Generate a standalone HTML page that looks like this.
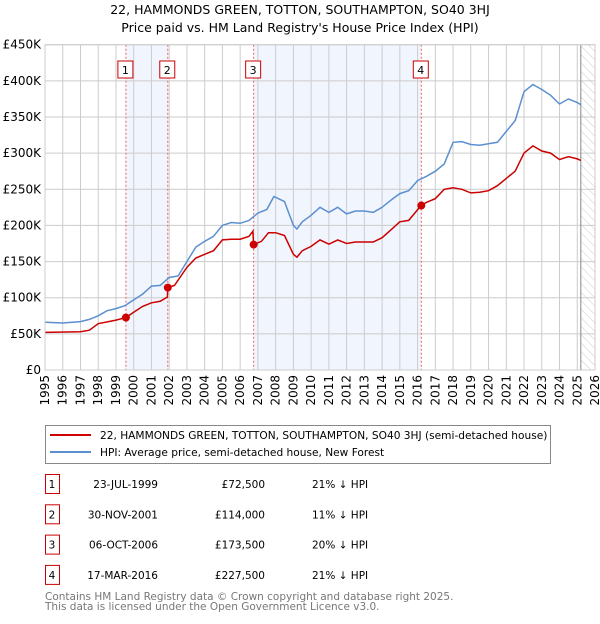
<!DOCTYPE html>
<html><head><meta charset="utf-8"><style>
body{margin:0;background:#fff;font-family:"DejaVu Sans","Liberation Sans",sans-serif;}
svg text{font-family:"DejaVu Sans","Liberation Sans",sans-serif;}
</style></head><body>
<svg id="chart" width="600" height="620" viewBox="0 0 600 620" xmlns="http://www.w3.org/2000/svg">
<defs><pattern id="hatch" width="6" height="6" patternUnits="userSpaceOnUse" patternTransform="rotate(-45)"><line x1="0" y1="0" x2="0" y2="6" stroke="#ccc" stroke-width="1"/></pattern></defs>
<text x="300" y="14" text-anchor="middle" font-size="12.5">22, HAMMONDS GREEN, TOTTON, SOUTHAMPTON, SO40 3HJ</text>
<text x="300" y="32" text-anchor="middle" font-size="12.5">Price paid vs. HM Land Registry's House Price Index (HPI)</text>
<g id="plot"></g>
<g>
<rect x="45.5" y="425.5" width="505" height="38" fill="#fff" stroke="#888"/>
<line x1="50" y1="435" x2="91" y2="435" stroke="#cc0000" stroke-width="2"/>
<text x="100" y="439" font-size="10.6">22, HAMMONDS GREEN, TOTTON, SOUTHAMPTON, SO40 3HJ (semi-detached house)</text>
<line x1="50" y1="452" x2="91" y2="452" stroke="#5b8fd0" stroke-width="2"/>
<text x="100" y="456" font-size="10.6">HPI: Average price, semi-detached house, New Forest</text>
</g>
<g id="table" font-size="10.5"></g>
<text x="45" y="600" font-size="10.5" fill="#777">Contains HM Land Registry data © Crown copyright and database right 2025.</text>
<text x="45" y="610" font-size="10.5" fill="#777">This data is licensed under the Open Government Licence v3.0.</text>
</svg>
<script>
const hpiDates=[1995,1996,1997,1997.5,1998,1998.5,1999,1999.5,2000,2000.5,2001,2001.5,2002,2002.5,2003,2003.5,2004,2004.5,2005,2005.5,2006,2006.5,2007,2007.5,2007.9,2008.5,2009,2009.2,2009.5,2010,2010.5,2011,2011.5,2012,2012.5,2013,2013.5,2014,2014.5,2015,2015.5,2016,2016.5,2017,2017.5,2018,2018.5,2019,2019.5,2020,2020.5,2021,2021.5,2022,2022.5,2023,2023.5,2024,2024.5,2025,2025.2];
const hpiValues=[66,65,67,70,75,82,85,89,97,105,116,117,128,130,150,170,178,185,200,204,203,207,217,222,240,233,200,195,205,214,225,218,225,216,220,220,218,225,235,244,248,262,268,275,285,315,316,312,311,313,315,330,345,385,395,388,380,368,375,370,367];
const priceDates=[1995,1997,1997.5,1998,1999,1999.56,2000,2000.5,2001,2001.5,2001.9,2001.92,2002.3,2003,2003.5,2004,2004.5,2005,2005.5,2006,2006.5,2006.72,2006.76,2007.2,2007.6,2008,2008.5,2009,2009.2,2009.5,2010,2010.5,2011,2011.5,2012,2012.5,2013,2013.5,2014,2014.5,2015,2015.5,2016.2,2016.5,2017,2017.5,2018,2018.5,2019,2019.5,2020,2020.5,2021,2021.5,2022,2022.5,2023,2023.5,2024,2024.5,2025,2025.2];
const priceValues=[52,53,55,64,69,72.5,80,88,93,95,101,114,117,142,155,160,165,180,181,181,185,192,173.5,178,190,190,186,160,156,165,171,180,174,180,175,177,177,177,183,194,205,207,227.5,232,237,250,252,250,245,246,248,255,265,275,300,310,303,300,291,295,292,290];
const saleDates=[1999.56,2001.92,2006.76,2016.21];
const saleValues=[72.5,114,173.5,227.5];
const saleLabels=["1","2","3","4"];
const saleDateText=["23-JUL-1999","30-NOV-2001","06-OCT-2006","17-MAR-2016"];
const salePriceText=["£72,500","£114,000","£173,500","£227,500"];
const salePctText=["21% ↓ HPI","11% ↓ HPI","20% ↓ HPI","21% ↓ HPI"];
const yTicks=[0,50,100,150,200,250,300,350,400,450];
const yTickLabels=["£0","£50K","£100K","£150K","£200K","£250K","£300K","£350K","£400K","£450K"];
const xYears=[];for(let y=1995;y<=2026;y++)xYears.push(y);

const X0=45,X1=595,Y0=370,Y1=44.7;
const sx=d=>X0+(d-1995)/31*(X1-X0);
const sy=v=>Y0-v/450*(Y0-Y1);
const NS="http://www.w3.org/2000/svg";
const plot=document.getElementById('plot');
function mk(tag,attrs,parent){const e=document.createElementNS(NS,tag);for(const k in attrs)e.setAttribute(k,attrs[k]);(parent||plot).appendChild(e);return e;}
const sh1=mk('rect',{x:sx(saleDates[0]),y:Y1,width:sx(saleDates[1])-sx(saleDates[0]),height:Y0-Y1,fill:'#eef2fc',opacity:0.8});


const sh2=mk('rect',{x:sx(saleDates[2]),y:Y1,width:sx(saleDates[3])-sx(saleDates[2]),height:Y0-Y1,fill:'#eef2fc',opacity:0.8});


const hx=sx(2025.2);
const ht=mk('rect',{x:hx,y:Y1,width:X1-hx,height:Y0-Y1,fill:'url(#hatch)'});


yTicks.forEach((t,i)=>{
 const l=mk('line',{x1:X0,x2:X1,y1:sy(t),y2:sy(t),stroke:'#ccc'});
 
 
 const tx=mk('text',{x:X0-4,y:sy(t)+4,'text-anchor':'end','font-size':'12'});
 
 
 tx.textContent=yTickLabels[i];
});
xYears.forEach(yr=>{
 const l=mk('line',{x1:sx(yr),x2:sx(yr),y1:Y1,y2:Y0,stroke:'#ccc'});
 
 
 const tx=mk('text',{x:0,y:0,'font-size':'12','text-anchor':'end',transform:`translate(${sx(yr)+4},${Y0+5}) rotate(-90)`});
 
 
 tx.textContent=yr;
});
const vl=mk('line',{x1:hx,x2:hx,y1:Y1,y2:Y0,stroke:'#888'});


saleDates.forEach((d,i)=>{
 const l=mk('line',{x1:sx(d),x2:sx(d),y1:Y1,y2:Y0,stroke:'#f06060','stroke-dasharray':'2,2'});
 
 
 const r=mk('rect',{x:sx(d)-8,y:61,width:15,height:17,fill:'#fff',stroke:'#cc0000'});
 
 
 const t=mk('text',{x:sx(d)-0.5,y:74,'text-anchor':'middle','font-size':'11'});
 
 
 t.textContent=saleLabels[i];
});
const pts=(ds,vs)=>ds.map((d,i)=>sx(d).toFixed(1)+','+sy(vs[i]).toFixed(1)).join(' ');
const hl=mk('polyline',{points:pts(hpiDates,hpiValues),fill:'none',stroke:'#5b8fd0','stroke-width':1.5});


const pl=mk('polyline',{points:pts(priceDates,priceValues),fill:'none',stroke:'#cc0000','stroke-width':1.5});


saleDates.forEach((d,i)=>{
 const c=mk('circle',{cx:sx(d),cy:sy(saleValues[i]),r:4,fill:'#cc0000'});
 
 
});
const ax=mk('rect',{x:X0,y:Y1,width:X1-X0,height:Y0-Y1,fill:'none',stroke:'#ccc'});


const tb=document.getElementById('table');
saleLabels.forEach((lab,i)=>{
 const y=484+i*30.3;
 const r=mk('rect',{x:45.5,y:y-9.5,width:14,height:19,fill:'#fff',stroke:'#cc0000'},tb);
 
 
 const cells=[[52,lab,'middle'],[158,saleDateText[i],'end'],[265,salePriceText[i],'end'],[312,salePctText[i],'start']];
 cells.forEach(c=>{
  const t=mk('text',{x:c[0],y:y+4,'text-anchor':c[2]},tb);
  
  
  t.textContent=c[1];
 });
});
</script>
</body></html>
